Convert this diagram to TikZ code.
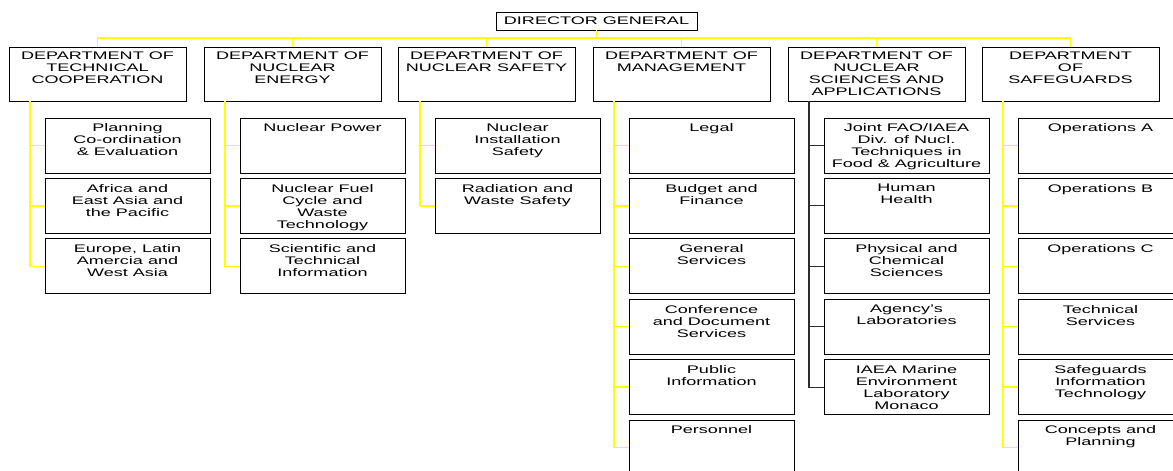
\documentclass[tikz,border=0pt]{standalone}
\usepackage{fontspec}
\setmainfont{Liberation Sans}[FakeStretch=1.64]
\definecolor{yl}{RGB}{255,255,0}
\definecolor{dk}{RGB}{45,45,45}
\newcommand{\dtext}[1]{\begin{minipage}[t][54pt][t]{177pt}\vspace*{5pt}\centering #1\end{minipage}}
\newcommand{\stext}[1]{\begin{minipage}[t][55pt][t]{165pt}\vspace*{6pt}\centering #1\end{minipage}}
\tikzset{
  orgbox/.style={draw=black, line width=1pt, inner sep=0pt, outer sep=0pt,
    font=\fontsize{11}{12}\selectfont, anchor=north west},
  deptbox/.style={orgbox, minimum width=177pt, minimum height=54pt},
  subbox/.style={orgbox, minimum width=165pt, minimum height=55pt},
  yline/.style={draw=yl, line width=1.4pt},
  dline/.style={draw=dk, line width=1.1pt}
}
\begin{document}
\begin{tikzpicture}[x=1pt,y=-1pt]
\clip (0,0) rectangle (1173,471);
\fill[white] (0,0) rectangle (1173,471);
\node[orgbox, anchor=center, minimum width=201pt, minimum height=18pt] (dg) at (596.5,21) {DIRECTOR GENERAL};
% departments
\node[deptbox] (d1) at (9,47)   {\dtext{DEPARTMENT OF\\TECHNICAL\\COOPERATION}};
\node[deptbox] (d2) at (204,47) {\dtext{DEPARTMENT OF\\NUCLEAR\\ENERGY}};
\node[deptbox] (d3) at (398,47) {\dtext{DEPARTMENT OF\\NUCLEAR SAFETY}};
\node[deptbox] (d4) at (593,47) {\dtext{DEPARTMENT OF\\MANAGEMENT}};
\node[deptbox] (d5) at (788,47) {\dtext{DEPARTMENT OF\\NUCLEAR\\SCIENCES AND\\APPLICATIONS}};
\node[deptbox] (d6) at (982,47) {\dtext{DEPARTMENT\\OF\\SAFEGUARDS}};
% sub units
\foreach \j/\t in {1/{Planning\\Co-ordination\\\& Evaluation},
                   2/{Africa and\\East Asia and\\the Pacific},
                   3/{Europe, Latin\\Amercia and\\West Asia}}
  \node[subbox] (a\j) at (45,{118+60.4*(\j-1)}) {\stext{\t}};
\foreach \j/\t in {1/{Nuclear Power},
                   2/{Nuclear Fuel\\Cycle and\\Waste\\Technology},
                   3/{Scientific and\\Technical\\Information}}
  \node[subbox] (b\j) at (240,{118+60.4*(\j-1)}) {\stext{\t}};
\foreach \j/\t in {1/{Nuclear\\Installation\\Safety},
                   2/{Radiation and\\Waste Safety}}
  \node[subbox] (c\j) at (435,{118+60.4*(\j-1)}) {\stext{\t}};
\foreach \j/\t in {1/{Legal},
                   2/{Budget and\\Finance},
                   3/{General\\Services},
                   4/{Conference\\and Document\\Services},
                   5/{Public\\Information},
                   6/{Personnel}}
  \node[subbox] (e\j) at (629,{118+60.4*(\j-1)}) {\stext{\t}};
\foreach \j/\t in {1/{Joint FAO/IAEA\\Div. of Nucl.\\Techniques in\\Food \& Agriculture},
                   2/{Human\\Health},
                   3/{Physical and\\Chemical\\Sciences},
                   4/{Agency's\\Laboratories},
                   5/{IAEA Marine\\Environment\\Laboratory\\Monaco}}
  \node[subbox] (f\j) at (824,{118+60.4*(\j-1)}) {\stext{\t}};
\foreach \j/\t in {1/{Operations A},
                   2/{Operations B},
                   3/{Operations C},
                   4/{Technical\\Services},
                   5/{Safeguards\\Information\\Technology},
                   6/{Concepts and\\Planning}}
  \node[subbox] (g\j) at (1018,{118+60.4*(\j-1)}) {\stext{\t}};
% top connectors
\coordinate (bus) at (0,38);
\draw[yline] (dg.south) -- (dg.south |- bus);
\draw[yline] (d1.north) -- (d1.north |- bus) -- (d6.north |- bus) -- (d6.north);
\foreach \i in {2,...,5} \draw[yline] (d\i.north) -- (d\i.north |- bus);
% trunks
\coordinate (t1) at (30,101);
\coordinate (t2) at (225,101);
\coordinate (t3) at (420,101);
\coordinate (t4) at (614,101);
\coordinate (t5) at (809,101);
\coordinate (t6) at (1003,101);
\draw[yline] (t1) |- (a3.west);
\foreach \j in {1,2} \draw[yline] (t1 |- a\j.west) -- (a\j.west);
\draw[yline] (t2) |- (b3.west);
\foreach \j in {1,2} \draw[yline] (t2 |- b\j.west) -- (b\j.west);
\draw[yline] (t3) |- (c2.west);
\draw[yline] (t3 |- c1.west) -- (c1.west);
\draw[yline] (t4) |- (e6.west);
\foreach \j in {1,...,5} \draw[yline] (t4 |- e\j.west) -- (e\j.west);
\draw[dline] (t5) |- (f5.west);
\foreach \j in {1,...,4} \draw[dline] (t5 |- f\j.west) -- (f\j.west);
\draw[yline] (t6) |- (g6.west);
\foreach \j in {1,...,5} \draw[yline] (t6 |- g\j.west) -- (g\j.west);
\end{tikzpicture}
\end{document}
